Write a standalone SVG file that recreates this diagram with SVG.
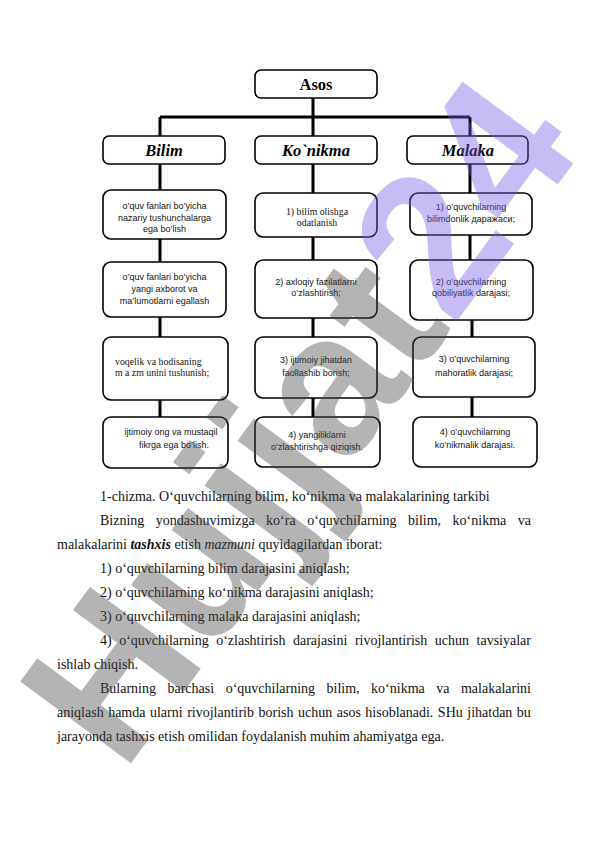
<svg xmlns="http://www.w3.org/2000/svg" width="596" height="842" viewBox="0 0 596 842">
<style>
.box{fill:none;stroke:#000;stroke-width:1.6}
.con{stroke:#000;stroke-width:3;fill:none}
.hd{font-family:"Liberation Serif",serif;font-weight:bold;font-size:16.5px;text-anchor:middle;fill:#000}
.hi{font-style:italic}
.s{font-family:"Liberation Sans",Arial,sans-serif;font-size:9px;text-anchor:middle;fill:#111}
.sr{font-family:"Liberation Serif",serif;font-size:9.8px;fill:#111}
.t{font-family:"Liberation Serif",serif;font-size:14px;fill:#111}
.wm{font-family:"Liberation Sans",Arial,sans-serif;font-weight:bold;font-size:200px}
</style>
<rect width="596" height="842" fill="#fff"/>
<g id="connectors" class="con">
<path d="M313 98V136M160 117H470M160 117V136M470 117V136"/>
<path d="M160 164V190M160 239V262M160 317V337M160 400V417"/>
<path d="M313 164V193M313 237V260M313 318V337M313 398V417"/>
<path d="M470 164V193M470 235V260M472 320V337M472 397V417"/>
</g>
<g id="asos"><rect class="box" x="255" y="70" width="122" height="28" rx="6"/><text class="hd" x="316" y="90">Asos</text></g>
<g id="bilim"><rect class="box" x="103" y="136" width="122" height="28" rx="6"/><text class="hd hi" x="164" y="156">Bilim</text></g>
<g id="konikma"><rect class="box" x="255" y="136" width="122" height="28" rx="6"/><text class="hd hi" x="316" y="156">Ko`nikma</text></g>
<g id="malaka"><rect class="box" x="407" y="136" width="121" height="28" rx="6"/><text class="hd hi" x="468" y="156">Malaka</text></g>
<g id="bilim1"><rect class="box" x="103" y="190" width="123" height="49" rx="8"/><text class="s" x="164.5" y="209">o’quv fanlari bo’yicha</text><text class="s" x="164.5" y="221">nazariy tushunchalarga</text><text class="s" x="164.5" y="232">ega bo’lish</text></g>
<g id="bilim2"><rect class="box" x="103" y="262" width="123" height="55" rx="8"/><text class="s" x="164.5" y="280">o’quv fanlari bo’yicha</text><text class="s" x="164.5" y="292">yangi axborot va</text><text class="s" x="164.5" y="304">ma’lumotlarni  egallash</text></g>
<g id="bilim3"><rect class="box" x="103" y="337" width="125" height="63" rx="8"/><text class="sr" x="115" y="365">voqelik va hodisaning</text><text class="sr" x="115" y="376">m a zm unini tushunish;</text></g>
<g id="bilim4"><rect class="box" x="103" y="417" width="125" height="51" rx="8"/><text class="s" x="171" y="435">ijtimoiy ong va mustaqil</text><text class="s" x="174" y="448">fikrga ega bo’lish.</text></g>
<g id="konikma1"><rect class="box" x="255" y="193" width="122" height="44" rx="8"/><text class="sr" x="317" y="215" text-anchor="middle">1) bilim  olishga</text><text class="sr" x="317" y="226" text-anchor="middle">odatlanish</text></g>
<g id="konikma2"><rect class="box" x="255" y="260" width="122" height="58" rx="8"/><text class="s" x="316" y="285">2)  axloqiy fazilatlarni</text><text class="s" x="316" y="296">o’zlashtirish;</text></g>
<g id="konikma3"><rect class="box" x="255" y="337" width="122" height="61" rx="8"/><text class="s" x="316" y="363">3)  ijtimoiy jihatdan</text><text class="s" x="316" y="376">faollashib borish;</text></g>
<g id="konikma4"><rect class="box" x="255" y="417" width="125" height="50" rx="8"/><text class="s" x="317" y="438">4)  yangiliklarni</text><text class="s" x="317" y="450">o’zlashtirishga qiziqish.</text></g>
<g id="malaka1"><rect class="box" x="410" y="193" width="122" height="42" rx="8"/><text class="s" x="471" y="210">1)  o’quvchilarning</text><text class="s" x="471" y="222">bilimdonlik даражаси;</text></g>
<g id="malaka2"><rect class="box" x="410" y="260" width="123" height="60" rx="8"/><text class="s" x="471" y="285">2)  o’quvchilarning</text><text class="s" x="471" y="296">qobiliyatlik darajasi;</text></g>
<g id="malaka3"><rect class="box" x="413" y="337" width="122" height="60" rx="8"/><text class="s" x="474" y="362">3)  o’quvchilarning</text><text class="s" x="474" y="376">mahoratlik darajasi;</text></g>
<g id="malaka4"><rect class="box" x="413" y="417" width="124" height="50" rx="8"/><text class="s" x="475" y="435">4)  o’quvchilarning</text><text class="s" x="475" y="448">ko’nikmalik darajasi.</text></g>
<g id="body">
<text class="t" x="100" y="501">1-chizma. O‘quvchilarning bilim, ko‘nikma va malakalarining tarkibi</text>
<text class="t" x="100" y="525" word-spacing="8">Bizning yondashuvimizga ko‘ra o‘quvchilarning bilim, ko‘nikma va</text>
<text class="t" x="57" y="549">malakalarini <tspan font-weight="bold" font-style="italic">tashxis</tspan> etish <tspan font-style="italic">mazmuni</tspan> quyidagilardan iborat:</text>
<text class="t" x="100" y="573">1) o‘quvchilarning bilim darajasini aniqlash;</text>
<text class="t" x="100" y="597">2) o‘quvchilarning ko‘nikma darajasini aniqlash;</text>
<text class="t" x="100" y="621">3) o‘quvchilarning malaka darajasini aniqlash;</text>
<text class="t" x="100" y="645" word-spacing="4.05">4) o‘quvchilarning o‘zlashtirish darajasini rivojlantirish uchun tavsiyalar</text>
<text class="t" x="57" y="669">ishlab chiqish.</text>
<text class="t" x="100" y="693" word-spacing="8">Bularning barchasi o‘quvchilarning bilim, ko‘nikma va malakalarini</text>
<text class="t" x="57" y="717" word-spacing="1">aniqlash hamda ularni rivojlantirib borish uchun asos hisoblanadi. SHu jihatdan bu</text>
<text class="t" x="57" y="741">jarayonda tashxis etish omilidan foydalanish muhim ahamiyatga ega.</text>
</g>
<g id="watermark" opacity="0.4">
<text class="wm" transform="translate(123 774) rotate(-53.6)"><tspan fill="#464646">Hujjat</tspan><tspan fill="#755ce6">24</tspan></text>
</g>
</svg>
